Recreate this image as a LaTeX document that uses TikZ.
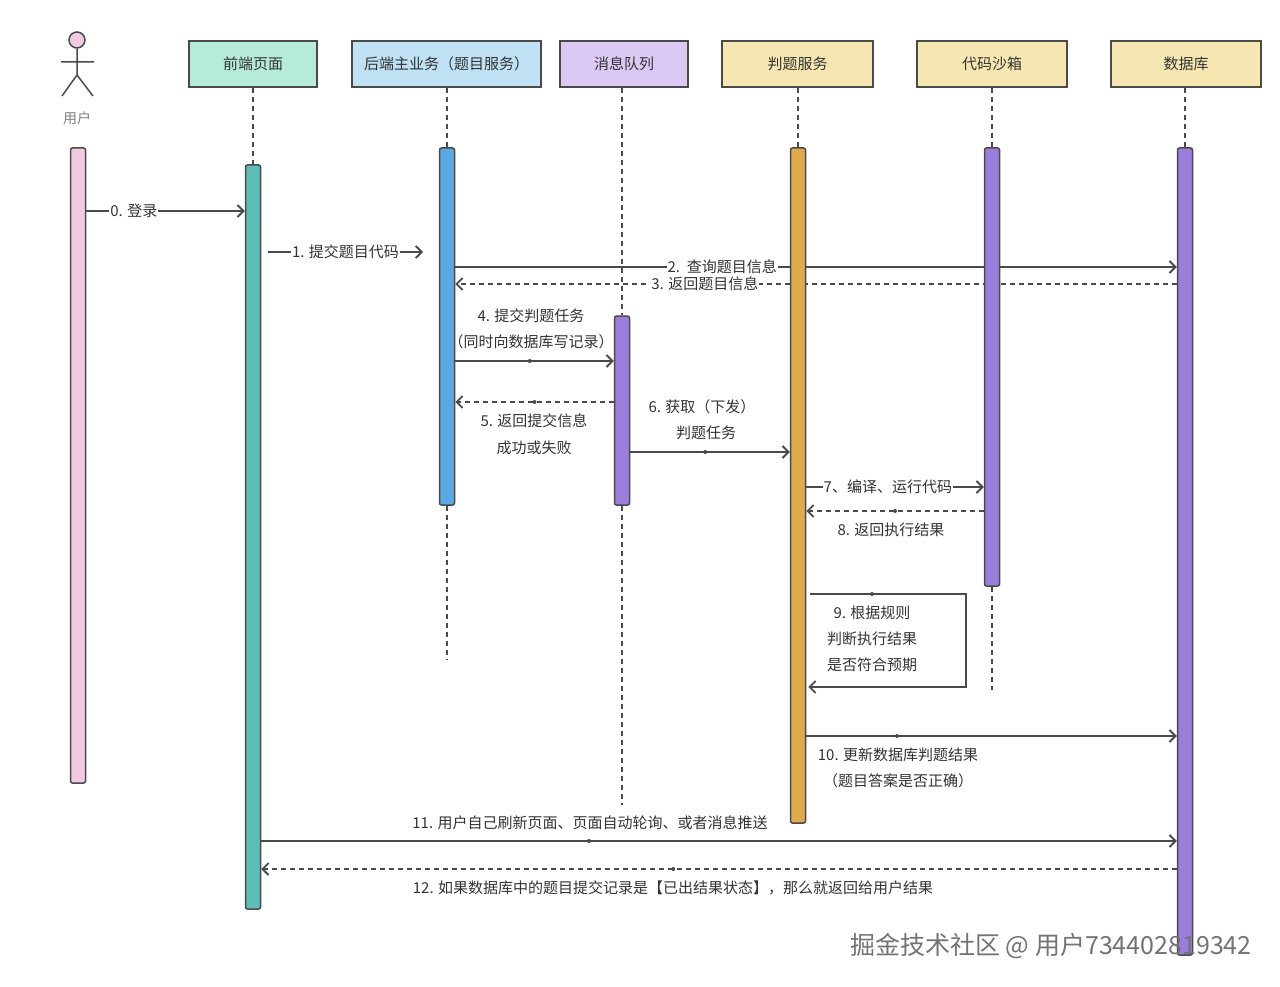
\documentclass[tikz,border=0pt]{standalone}
\usepackage{fontspec}
\setmainfont{Noto Sans CJK SC}
\usetikzlibrary{arrows.meta,backgrounds,calc}
\definecolor{edge}{HTML}{4A4A4A}
\definecolor{txt}{HTML}{333333}
\definecolor{hfefill}{HTML}{B6EADA}
\definecolor{hbefill}{HTML}{BFE1F3}
\definecolor{hmqfill}{HTML}{D9C9F3}
\definecolor{hyfill}{HTML}{F6E7B2}
\definecolor{pinkbar}{HTML}{F2C9E2}
\definecolor{tealbar}{HTML}{5CBDB6}
\definecolor{bluebar}{HTML}{5CA8E2}
\definecolor{purplebar}{HTML}{9B7EDC}
\definecolor{orangebar}{HTML}{DDAB4B}
\begin{document}
\begin{tikzpicture}[x=1pt,y=-1pt,
  hdr/.style={draw=edge, line width=1.5pt, minimum height=46pt, inner sep=0pt,
    font=\fontsize{15}{17}\selectfont, text=txt},
  bar/.style={draw=edge, line width=1.5pt, rounded corners=2pt, minimum width=15pt, inner sep=0pt},
  life/.style={draw=edge, line width=1.5pt, dash pattern=on 5pt off 4pt},
  msg/.style={draw=edge, line width=1.8pt, -{Straight Barb[length=6pt,width=12pt,line width=1.8pt]}},
  ret/.style={msg, dash pattern=on 5pt off 4pt},
  lbl/.style={font=\fontsize{15}{17}\selectfont, text=txt, fill=white, inner sep=1pt},
  ltxt/.style={font=\fontsize{15}{17}\selectfont, text=txt, inner sep=0pt},
  mdot/.style={circle, fill=edge, inner sep=0pt, minimum size=4pt}]
\useasboundingbox (0,0) rectangle (1280,987);

% actor
\node[circle, draw=edge, fill=pinkbar, line width=1.5pt, minimum size=16pt, inner sep=0pt] (head) at (77,40) {};
\coordinate (hip) at (77,75);
\coordinate (armL) at (61,62);
\coordinate (armR) at (94,62);
\coordinate (footL) at (62,96);
\coordinate (footR) at (93,96);
\draw[edge, line width=1.5pt] (head.south) -- (hip) (armL) -- (armR) (footL) -- (hip) -- (footR);
\node[font=\fontsize{14}{16}\selectfont, text=gray] (ulabel) at (77,118) {用户};

% headers
\node[hdr, fill=hfefill, minimum width=128pt] (hfe) at (253,64) {前端页面};
\node[hdr, fill=hbefill, minimum width=189pt] (hbe) at (446.5,64) {后端主业务（题目服务）};
\node[hdr, fill=hmqfill, minimum width=128pt] (hmq) at (624,64) {消息队列};
\node[hdr, fill=hyfill, minimum width=151pt] (hjd) at (797.5,64) {判题服务};
\node[hdr, fill=hyfill, minimum width=150pt] (hsb) at (992,64) {代码沙箱};
\node[hdr, fill=hyfill, minimum width=150pt] (hdb) at (1186,64) {数据库};

% activation bars
\node[bar, fill=pinkbar, minimum height=635pt] (ub) at (78,465.5) {};
\node[bar, fill=tealbar, minimum height=744pt] (fb) at (253,537) {};
\node[bar, fill=bluebar, minimum height=357pt] (bb) at (447,326.5) {};
\node[bar, fill=purplebar, minimum height=189pt] (mb) at (622,410.5) {};
\node[bar, fill=orangebar, minimum height=675pt] (jb) at (798,485.5) {};
\node[bar, fill=purplebar, minimum height=438pt] (sb) at (992,367) {};
\node[bar, fill=purplebar, minimum height=807pt] (db) at (1185,551.5) {};

% message levels
\coordinate (m0) at (0,211);
\coordinate (c1a) at (268,252);
\coordinate (c1b) at (423,252);
\coordinate (m2) at (0,267);
\coordinate (m3) at (0,284);
\coordinate (m4) at (0,361);
\coordinate (m5) at (0,402);
\coordinate (m6) at (0,452);
\coordinate (m7) at (0,487);
\coordinate (m8) at (0,511);
\coordinate (m9a) at (0,594);
\coordinate (s9a) at (966,594);
\coordinate (s9b) at (966,687);
\coordinate (m10) at (0,736);
\coordinate (m11) at (0,841);
\coordinate (m12) at (0,869);
\coordinate (bend) at (447,660);
\coordinate (mend) at (622,805);
\coordinate (send) at (992,690);

\begin{scope}[on background layer]
\fill[white] (0,0) rectangle (1280,987);
% lifelines
\draw[life] (fb.north |- hfe.south) -- (fb.north);
\draw[life] (bb.north |- hbe.south) -- (bb.north);
\draw[life] (bb.south) -- (bend);
\draw[life] (jb.north |- hjd.south) -- (jb.north);
\draw[life] (sb.north |- hsb.south) -- (sb.north);
\draw[life] (sb.south) -- (send);
\draw[life] (db.north |- hdb.south) -- (db.north);

% messages
\draw[msg] (ub.east |- m0) -- (fb.west |- m0) node[lbl, pos=0.3] (l0) {0. 登录};
\draw[msg] (c1a) -- (c1b) node[lbl, pos=0.5] (l1) {1. 提交题目代码};
\draw[msg] (bb.east |- m2) -- (db.west |- m2) node[lbl, pos=0.37] (l2) {2.\ \ 查询题目信息};
\draw[ret] (db.west |- m3) -- (bb.east |- m3) node[lbl, pos=0.654] (l3) {3. 返回题目信息};
\draw[life] (mb.north |- hmq.south) -- (mb.north);
\draw[life] (mb.south) -- (mend);
\draw[msg] (bb.east |- m4) -- (mb.west |- m4) node[mdot, pos=0.47] (d4) {};
\draw[ret] (mb.west |- m5) -- (bb.east |- m5) node[mdot, pos=0.5] (d5) {};
\draw[msg] (mb.east |- m6) -- (jb.west |- m6) node[mdot, pos=0.47] (d6) {};
\draw[msg] (jb.east |- m7) -- (sb.west |- m7) node[lbl, pos=0.46] (l7) {7、编译、运行代码};
\draw[ret] (sb.west |- m8) -- (jb.east |- m8) node[mdot, pos=0.5] (d8) {};
\draw[msg] ([xshift=4pt]jb.east |- m9a) -- (s9a) -- (s9b) -- ([xshift=2pt]jb.east |- s9b);
\node[mdot] (d9) at (872,594) {};
\draw[msg] (jb.east |- m10) -- (db.west |- m10) node[mdot, pos=0.245] (d10) {};
\draw[msg] (fb.east |- m11) -- (db.west |- m11) node[mdot, pos=0.358] (d11) {};
\draw[ret] (db.west |- m12) -- (fb.east |- m12) node[mdot, pos=0.55] (d12) {};
\end{scope}

% labels
\node[ltxt] (l4a) at (531,316) {4. 提交判题任务};
\node[ltxt] (l4b) at (531,342) {（同时向数据库写记录）};
\node[ltxt] (l5a) at (534,421) {5. 返回提交信息};
\node[ltxt] (l5b) at (534,448) {成功或失败};
\node[ltxt] (l6a) at (702,407) {6. 获取（下发）};
\node[ltxt] (l6b) at (706,433) {判题任务};
\node[ltxt] (l8) at (891,530) {8. 返回执行结果};
\node[ltxt] (l9a) at (872,613) {9. 根据规则};
\node[ltxt] (l9b) at (872,639) {判断执行结果};
\node[ltxt] (l9c) at (872,665) {是否符合预期};
\node[ltxt] (l10a) at (898,755) {10. 更新数据库判题结果};
\node[ltxt] (l10b) at (898,781) {（题目答案是否正确）};
\node[ltxt] (l11) at (590,823) {11. 用户自己刷新页面、页面自动轮询、或者消息推送};
\node[ltxt] (l12) at (673,888) {12. 如果数据库中的题目提交记录是【已出结果状态】，那么就返回给用户结果};

% watermark
\node[font=\fontsize{25}{28}\selectfont, text=black!55, inner sep=0pt] (wm) at (1051,946) {掘金技术社区 @ 用户734402819342};
\end{tikzpicture}
\end{document}
